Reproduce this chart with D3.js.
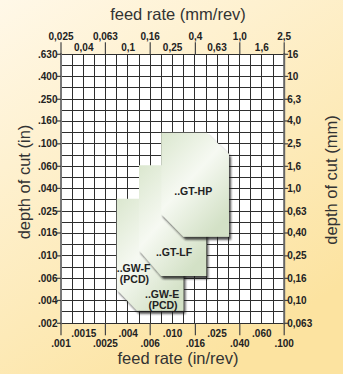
<!DOCTYPE html>
<html><head><meta charset="utf-8">
<script src="https://cdn.jsdelivr.net/npm/d3@7/dist/d3.min.js"></script>
<style>
html,body{margin:0;padding:0;background:#fff;}
svg{display:block;}
.tick-lbl{font-family:"Liberation Sans",Arial,sans-serif;font-weight:bold;font-size:10px;fill:#222;}
.title{font-family:"Liberation Sans",Arial,sans-serif;font-size:16.5px;fill:#333;}
.shape-lbl{font-family:"Liberation Sans",Arial,sans-serif;font-weight:bold;font-size:10.5px;fill:#222;}
</style></head>
<body>
<script>
// ---- data ----
const feedInTicks = [0.001,0.0016,0.0025,0.004,0.0063,0.01,0.016,0.025,0.04,0.063,0.1];
const feedInLabels = [".001",".0015",".0025",".004",".006",".010",".016",".025",".040",".060",".100"];
const feedMmLabels = ["0,025","0,04","0,063","0,1","0,16","0,25","0,4","0,63","1,0","1,6","2,5"];
const depthInTicks = [0.63,0.4,0.25,0.16,0.1,0.063,0.04,0.025,0.016,0.01,0.0063,0.004,0.0025];
const depthInLabels = [".630",".400",".250",".160",".100",".060",".040",".025",".016",".010",".006",".004",".002"];
const depthMmLabels = ["16","10","6,3","4,0","2,5","1,6","1,0","0,63","0,40","0,25","0,16","0,10","0,063"];

// application areas: [feed in/rev, depth in]
const gwArea   = [[0.00316,0.0323],[0.0125,0.0323],[0.0125,0.00323],[0.0048,0.00323],[0.00316,0.0050]];
const gtlfArea = [[0.0050,0.0645],[0.020,0.0645],[0.020,0.0066],[0.0079,0.0066],[0.0050,0.0112]];
const gthpArea = [[0.0079,0.1257],[0.0202,0.1257],[0.0320,0.0812],[0.0320,0.0148],[0.0125,0.0148],[0.0079,0.0237]];
const areas = [gwArea, gtlfArea, gthpArea];

// each label line is its own text: [text, feed, depth]
const areaLabels = [
  ["..GT-HP", 0.0153, 0.038],
  ["..GT-LF", 0.0103, 0.0108],
  ["..GW-F", 0.00447, 0.0078],
  ["(PCD)", 0.00455, 0.0062],
  ["..GW-E", 0.00805, 0.0045],
  ["(PCD)", 0.0082, 0.0036]
];

// ---- drawing ----
const W=343,H=374;
const L=61,R=284.2,T=54.3,B=323.3;
const svg=d3.select("body").append("svg").attr("width",W).attr("height",H);
const defs=svg.append("defs");
const bg=defs.append("linearGradient").attr("id","bg").attr("x1",0).attr("y1",0).attr("x2",0.6).attr("y2",1);
bg.append("stop").attr("offset","0%").attr("stop-color","#fff8e8");
bg.append("stop").attr("offset","100%").attr("stop-color","#fce3a0");
const fg=defs.append("linearGradient").attr("id","face").attr("x1",0).attr("y1",0).attr("x2",0.7).attr("y2",1);
fg.append("stop").attr("offset","0%").attr("stop-color","#dbe7cf");
fg.append("stop").attr("offset","50%").attr("stop-color","#f6f9f2");
fg.append("stop").attr("offset","100%").attr("stop-color","#d3e1c6");
const f=defs.append("filter").attr("id","sh").attr("x","-10%").attr("y","-10%").attr("width","130%").attr("height","130%");
f.append("feDropShadow").attr("dx",2).attr("dy",3).attr("stdDeviation",1.2).attr("flood-color","#1a1a1a").attr("flood-opacity",0.8);

svg.append("rect").attr("width",W).attr("height",H).attr("fill","url(#bg)");

const x=d3.scaleLog().domain([0.001,0.1]).range([L,R]);
const y=d3.scaleLog().domain([0.0025,0.63]).range([B,T]);

svg.append("rect").attr("x",L).attr("y",T).attr("width",R-L).attr("height",B-T).attr("fill","#fff");

// grid: every 0.1 decade
const g=svg.append("g").attr("shape-rendering","crispEdges");
for(let k=0;k<=20;k++){
  const xv=0.001*Math.pow(10,k/10);
  g.append("line").attr("x1",x(xv)).attr("x2",x(xv)).attr("y1",T).attr("y2",B)
    .attr("stroke","#2e2e2e").attr("stroke-width",1);
}
for(let k=0;k<=24;k++){
  const yv=0.63*Math.pow(10,-k/10);
  g.append("line").attr("x1",L).attr("x2",R).attr("y1",y(yv)).attr("y2",y(yv))
    .attr("stroke","#2e2e2e").attr("stroke-width",1);
}
svg.append("line").attr("x1",L).attr("x2",L).attr("y1",T-1).attr("y2",B+1).attr("stroke","#777").attr("stroke-width",2);
svg.append("line").attr("x1",R).attr("x2",R).attr("y1",T-1).attr("y2",B+1).attr("stroke","#666").attr("stroke-width",2);

// areas
const line=d3.line().x(d=>x(d[0])).y(d=>y(d[1]));
svg.append("g").selectAll("path").data(areas).join("path")
  .attr("d",d=>line(d)+"Z").attr("fill","url(#face)").attr("filter","url(#sh)");

// area labels
svg.append("g").selectAll("text").data(areaLabels).join("text")
  .attr("class","shape-lbl").attr("text-anchor","middle")
  .attr("x",d=>x(d[1])).attr("y",d=>y(d[2])).attr("dy","0.35em").text(d=>d[0]);

// top axis (mm)
const ta=svg.append("g");
feedInTicks.forEach((v,i)=>{
  const up=i%2===0;
  if(up) ta.append("line").attr("x1",x(v)).attr("x2",x(v)).attr("y1",T).attr("y2",T-12).attr("stroke","#444").attr("stroke-width",1.2);
  ta.append("text").attr("class","tick-lbl").attr("text-anchor","middle")
    .attr("x",x(v)).attr("y",up?39.5:50.5).text(feedMmLabels[i]);
});
// bottom axis (in)
const ba=svg.append("g");
feedInTicks.forEach((v,i)=>{
  const down=i%2===0;
  if(down) ba.append("line").attr("x1",x(v)).attr("x2",x(v)).attr("y1",B).attr("y2",B+12).attr("stroke","#444").attr("stroke-width",1.2);
  ba.append("text").attr("class","tick-lbl").attr("text-anchor","middle")
    .attr("x",x(v)).attr("y",down?346.5:336.5).text(feedInLabels[i]);
});
// left axis (in)
const la=svg.append("g");
depthInTicks.forEach((v,i)=>{
  la.append("line").attr("x1",L-4).attr("x2",L).attr("y1",y(v)).attr("y2",y(v)).attr("stroke","#444").attr("stroke-width",1.2);
  la.append("text").attr("class","tick-lbl").attr("text-anchor","end")
    .attr("x",L-3.5).attr("y",y(v)).attr("dy","0.35em").text(depthInLabels[i]);
});
// right axis (mm)
const ra=svg.append("g");
depthInTicks.forEach((v,i)=>{
  ra.append("line").attr("x1",R).attr("x2",R+4).attr("y1",y(v)).attr("y2",y(v)).attr("stroke","#444").attr("stroke-width",1.2);
  ra.append("text").attr("class","tick-lbl").attr("text-anchor","start")
    .attr("x",R+3).attr("y",y(v)).attr("dy","0.35em").text(depthMmLabels[i]);
});

// titles
svg.append("text").attr("class","title").attr("text-anchor","middle").attr("x",178).attr("y",20).text("feed rate (mm/rev)");
svg.append("text").attr("class","title").attr("text-anchor","middle").attr("x",178).attr("y",364).text("feed rate (in/rev)");
svg.append("text").attr("class","title").attr("text-anchor","middle").attr("transform","translate(30,182) rotate(-90)").text("depth of cut (in)");
svg.append("text").attr("class","title").attr("text-anchor","middle").attr("transform","translate(337,180) rotate(-90)").text("depth of cut (mm)");
</script>
</body></html>
